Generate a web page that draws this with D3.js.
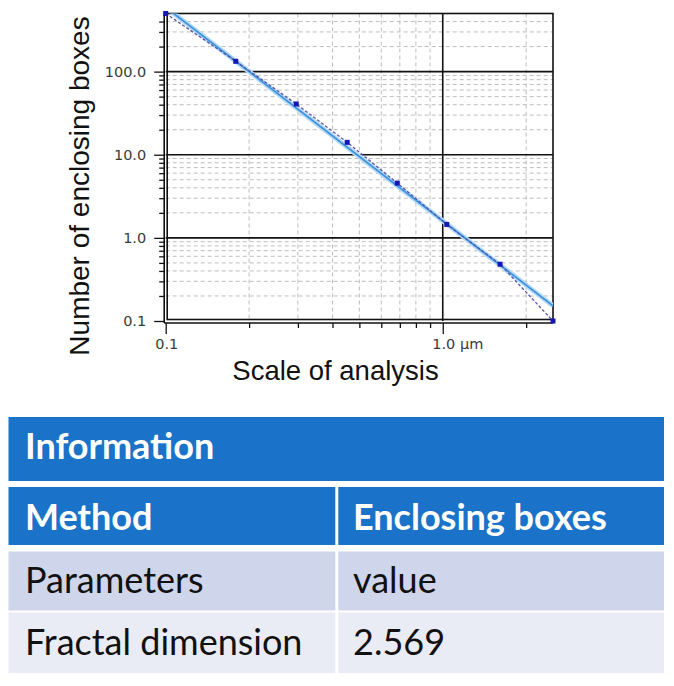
<!DOCTYPE html>
<html>
<head>
<meta charset="utf-8">
<script src="https://cdn.jsdelivr.net/npm/d3@7"></script>
<style>
body { margin: 0; background: #fff; }
svg { display: block; }
</style>
</head>
<body>
<div id="chart"></div>
<script>

var scaleValues = [0.1, 0.179, 0.296, 0.452, 0.685, 1.034, 1.61, 2.5];
var boxCounts = [500, 133, 40.8, 14.1, 4.56, 1.45, 0.482, 0.1];
var fractalDim = 2.569;
var fitAnchor = [0.2, 100];
var xMajor = [0.1, 1];
var xMinor = [0.2, 0.3, 0.4, 0.5, 0.6, 0.7, 0.8, 0.9, 2];
var yMajor = [0.1, 1, 10, 100];
var yMinor = [0.2, 0.3, 0.4, 0.5, 0.6, 0.7, 0.8, 0.9,
  2, 3, 4, 5, 6, 7, 8, 9, 20, 30, 40, 50, 60, 70, 80, 90, 200, 300, 400];
var tableHead = "Information";
var tableRows = [
  ["Method", "Enclosing boxes"],
  ["Parameters", "value"],
  ["Fractal dimension", "2.569"]
];

var W = 674, H = 686;
var mrg = { top: 13.5, right: 121, bottom: 365, left: 165.7 };

var svg = d3.select("#chart")
  .append("svg")
  .attr("width", W)
  .attr("height", H);

svg.append("rect").attr("width", W).attr("height", H).attr("fill", "#fff");

var xScale = d3.scaleLog()
  .domain([0.1, 2.5])
  .range([mrg.left, W - mrg.right]);
var yScale = d3.scaleLog()
  .domain([0.1, 500])
  .range([H - mrg.bottom, mrg.top]);

var x0 = xScale.range()[0], x1 = xScale.range()[1];
var y0 = yScale.range()[0], y1 = yScale.range()[1];

// minor dashed grid
svg.append("g").selectAll("line")
  .data(xMinor).enter().append("line")
  .attr("x1", function(d) { return xScale(d); })
  .attr("x2", function(d) { return xScale(d); })
  .attr("y1", y1).attr("y2", y0)
  .attr("stroke", "#bdbdbd").attr("stroke-dasharray", "4,3");
svg.append("g").selectAll("line")
  .data(yMinor).enter().append("line")
  .attr("y1", function(d) { return yScale(d); })
  .attr("y2", function(d) { return yScale(d); })
  .attr("x1", x0).attr("x2", x1)
  .attr("stroke", "#bdbdbd").attr("stroke-dasharray", "4,3");

// major solid grid
svg.append("g").selectAll("line")
  .data(yMajor.slice(1)).enter().append("line")
  .attr("y1", function(d) { return yScale(d); })
  .attr("y2", function(d) { return yScale(d); })
  .attr("x1", x0).attr("x2", x1)
  .attr("stroke", "#111").attr("stroke-width", 1.6);
svg.append("g").selectAll("line")
  .data(xMajor.slice(1)).enter().append("line")
  .attr("x1", function(d) { return xScale(d); })
  .attr("x2", function(d) { return xScale(d); })
  .attr("y1", y1).attr("y2", y0)
  .attr("stroke", "#111").attr("stroke-width", 1.6);

// frame
svg.append("rect")
  .attr("x", x0 + 1.5).attr("y", y1)
  .attr("width", x1 - x0 - 1.5).attr("height", y0 - y1 - 1.5)
  .attr("fill", "none").attr("stroke", "#111").attr("stroke-width", 1.6);

// axes
var axLeftX = x0 - 1.5, axBotY = y0 + 2;

svg.append("g")
  .attr("transform", `translate(${axLeftX},0)`)
  .call(d3.axisLeft(yScale).tickValues(yMinor).tickSize(5).tickFormat(""))
  .call(function(g) { g.select(".domain").remove(); });

var yAx = svg.append("g")
  .attr("transform", `translate(${axLeftX},0)`)
  .call(d3.axisLeft(yScale).tickValues(yMajor).tickSize(10).tickPadding(8).tickFormat(d3.format(".1f")));
yAx.select(".domain").attr("d", `M0,${y1}V${axBotY}`).attr("stroke", "#111").attr("stroke-width", 1.6);

svg.append("g")
  .attr("transform", `translate(0,${axBotY})`)
  .call(d3.axisBottom(xScale).tickValues(xMinor).tickSize(5).tickFormat(""))
  .call(function(g) { g.select(".domain").remove(); });

var xAx = svg.append("g")
  .attr("transform", `translate(0,${axBotY})`)
  .call(d3.axisBottom(xScale).tickValues(xMajor).tickSize(11).tickPadding(5)
    .tickFormat(function(d) { return d === 1 ? "1.0 \u00b5m" : "0.1"; }));
xAx.select(".domain").attr("d", `M${axLeftX},0H${x1}`).attr("stroke", "#111").attr("stroke-width", 1.6);
xAx.selectAll("text").attr("text-anchor", "start").attr("dx", -11);

svg.selectAll(".tick line").attr("stroke", "#111").attr("stroke-width", 1.3);
svg.selectAll(".tick text")
  .attr("font-family", "DejaVu Sans")
  .attr("font-size", 14.5)
  .attr("fill", "#3a3a3a");

// fit line
svg.append("clipPath").attr("id", "plotClip")
  .append("rect").attr("x", x0).attr("y", y1).attr("width", x1 - x0).attr("height", y0 - y1);

var fit = function(x) { return fitAnchor[1] * Math.pow(x / fitAnchor[0], -fractalDim); };
var fitPts = [0.1, 2.5].map(function(x) { return [xScale(x), yScale(fit(x))]; });

svg.append("path")
  .attr("clip-path", "url(#plotClip)")
  .attr("d", d3.line()(fitPts))
  .attr("stroke", "#b5dbf7").attr("stroke-width", 5).attr("fill", "none");
svg.append("path")
  .attr("clip-path", "url(#plotClip)")
  .attr("d", d3.line()(fitPts))
  .attr("stroke", "#3f93de").attr("stroke-width", 1.8).attr("fill", "none");

// data line + markers
var line = d3.line()
  .x(function(d, i) { return xScale(scaleValues[i]); })
  .y(function(d) { return yScale(d); });

svg.append("path")
  .attr("d", line(boxCounts))
  .attr("stroke", "#5a52a8").attr("stroke-width", 1.3)
  .attr("stroke-dasharray", "3,2").attr("fill", "none");

svg.append("g").selectAll("rect")
  .data(boxCounts).enter().append("rect")
  .attr("x", function(d, i) { return xScale(scaleValues[i]) - 2.5; })
  .attr("y", function(d) { return yScale(d) - 2.5; })
  .attr("width", 5).attr("height", 5)
  .attr("fill", "#1616b8");

// axis titles
svg.append("text")
  .attr("x", 335.5).attr("y", 380)
  .attr("text-anchor", "middle")
  .attr("font-family", "Liberation Sans, Arial")
  .attr("font-size", 27.5)
  .attr("fill", "#111")
  .text("Scale of analysis");

svg.append("text")
  .attr("transform", "translate(89,186) rotate(-90)")
  .attr("text-anchor", "middle")
  .attr("font-family", "Liberation Sans, Arial")
  .attr("font-size", 28)
  .attr("fill", "#111")
  .text("Number of enclosing boxes");

// table
var tL = 8.5, tR = 664, tMid = 336.8, gap = 3;
var rowBox = [[487, 545], [551.5, 610.5], [612.5, 673]];
var rowFill = ["#1a73c9", "#cfd5ea", "#e9ebf5"];
var rowBase = [530, 593, 655];

svg.append("rect")
  .attr("x", tL).attr("y", 417).attr("width", tR - tL).attr("height", 64)
  .attr("fill", "#1a73c9");
svg.append("text")
  .attr("x", 25).attr("y", 459)
  .attr("font-family", "Lato").attr("font-weight", "bold")
  .attr("font-size", 36).attr("fill", "#fff")
  .text(tableHead);

tableRows.forEach(function(r, i) {
  var g = svg.append("g");
  g.append("rect")
    .attr("x", tL).attr("y", rowBox[i][0])
    .attr("width", tMid - gap / 2 - tL).attr("height", rowBox[i][1] - rowBox[i][0])
    .attr("fill", rowFill[i]);
  g.append("rect")
    .attr("x", tMid + gap / 2).attr("y", rowBox[i][0])
    .attr("width", tR - tMid - gap / 2).attr("height", rowBox[i][1] - rowBox[i][0])
    .attr("fill", rowFill[i]);
  g.selectAll("text")
    .data(r).enter().append("text")
    .attr("x", function(d, j) { return j === 0 ? 25 : 353; })
    .attr("y", rowBase[i])
    .attr("font-family", "Lato")
    .attr("font-weight", i === 0 ? "bold" : "normal")
    .attr("font-size", 36)
    .attr("fill", i === 0 ? "#fff" : "#111")
    .text(function(d) { return d; });
});

</script>
</body>
</html>
